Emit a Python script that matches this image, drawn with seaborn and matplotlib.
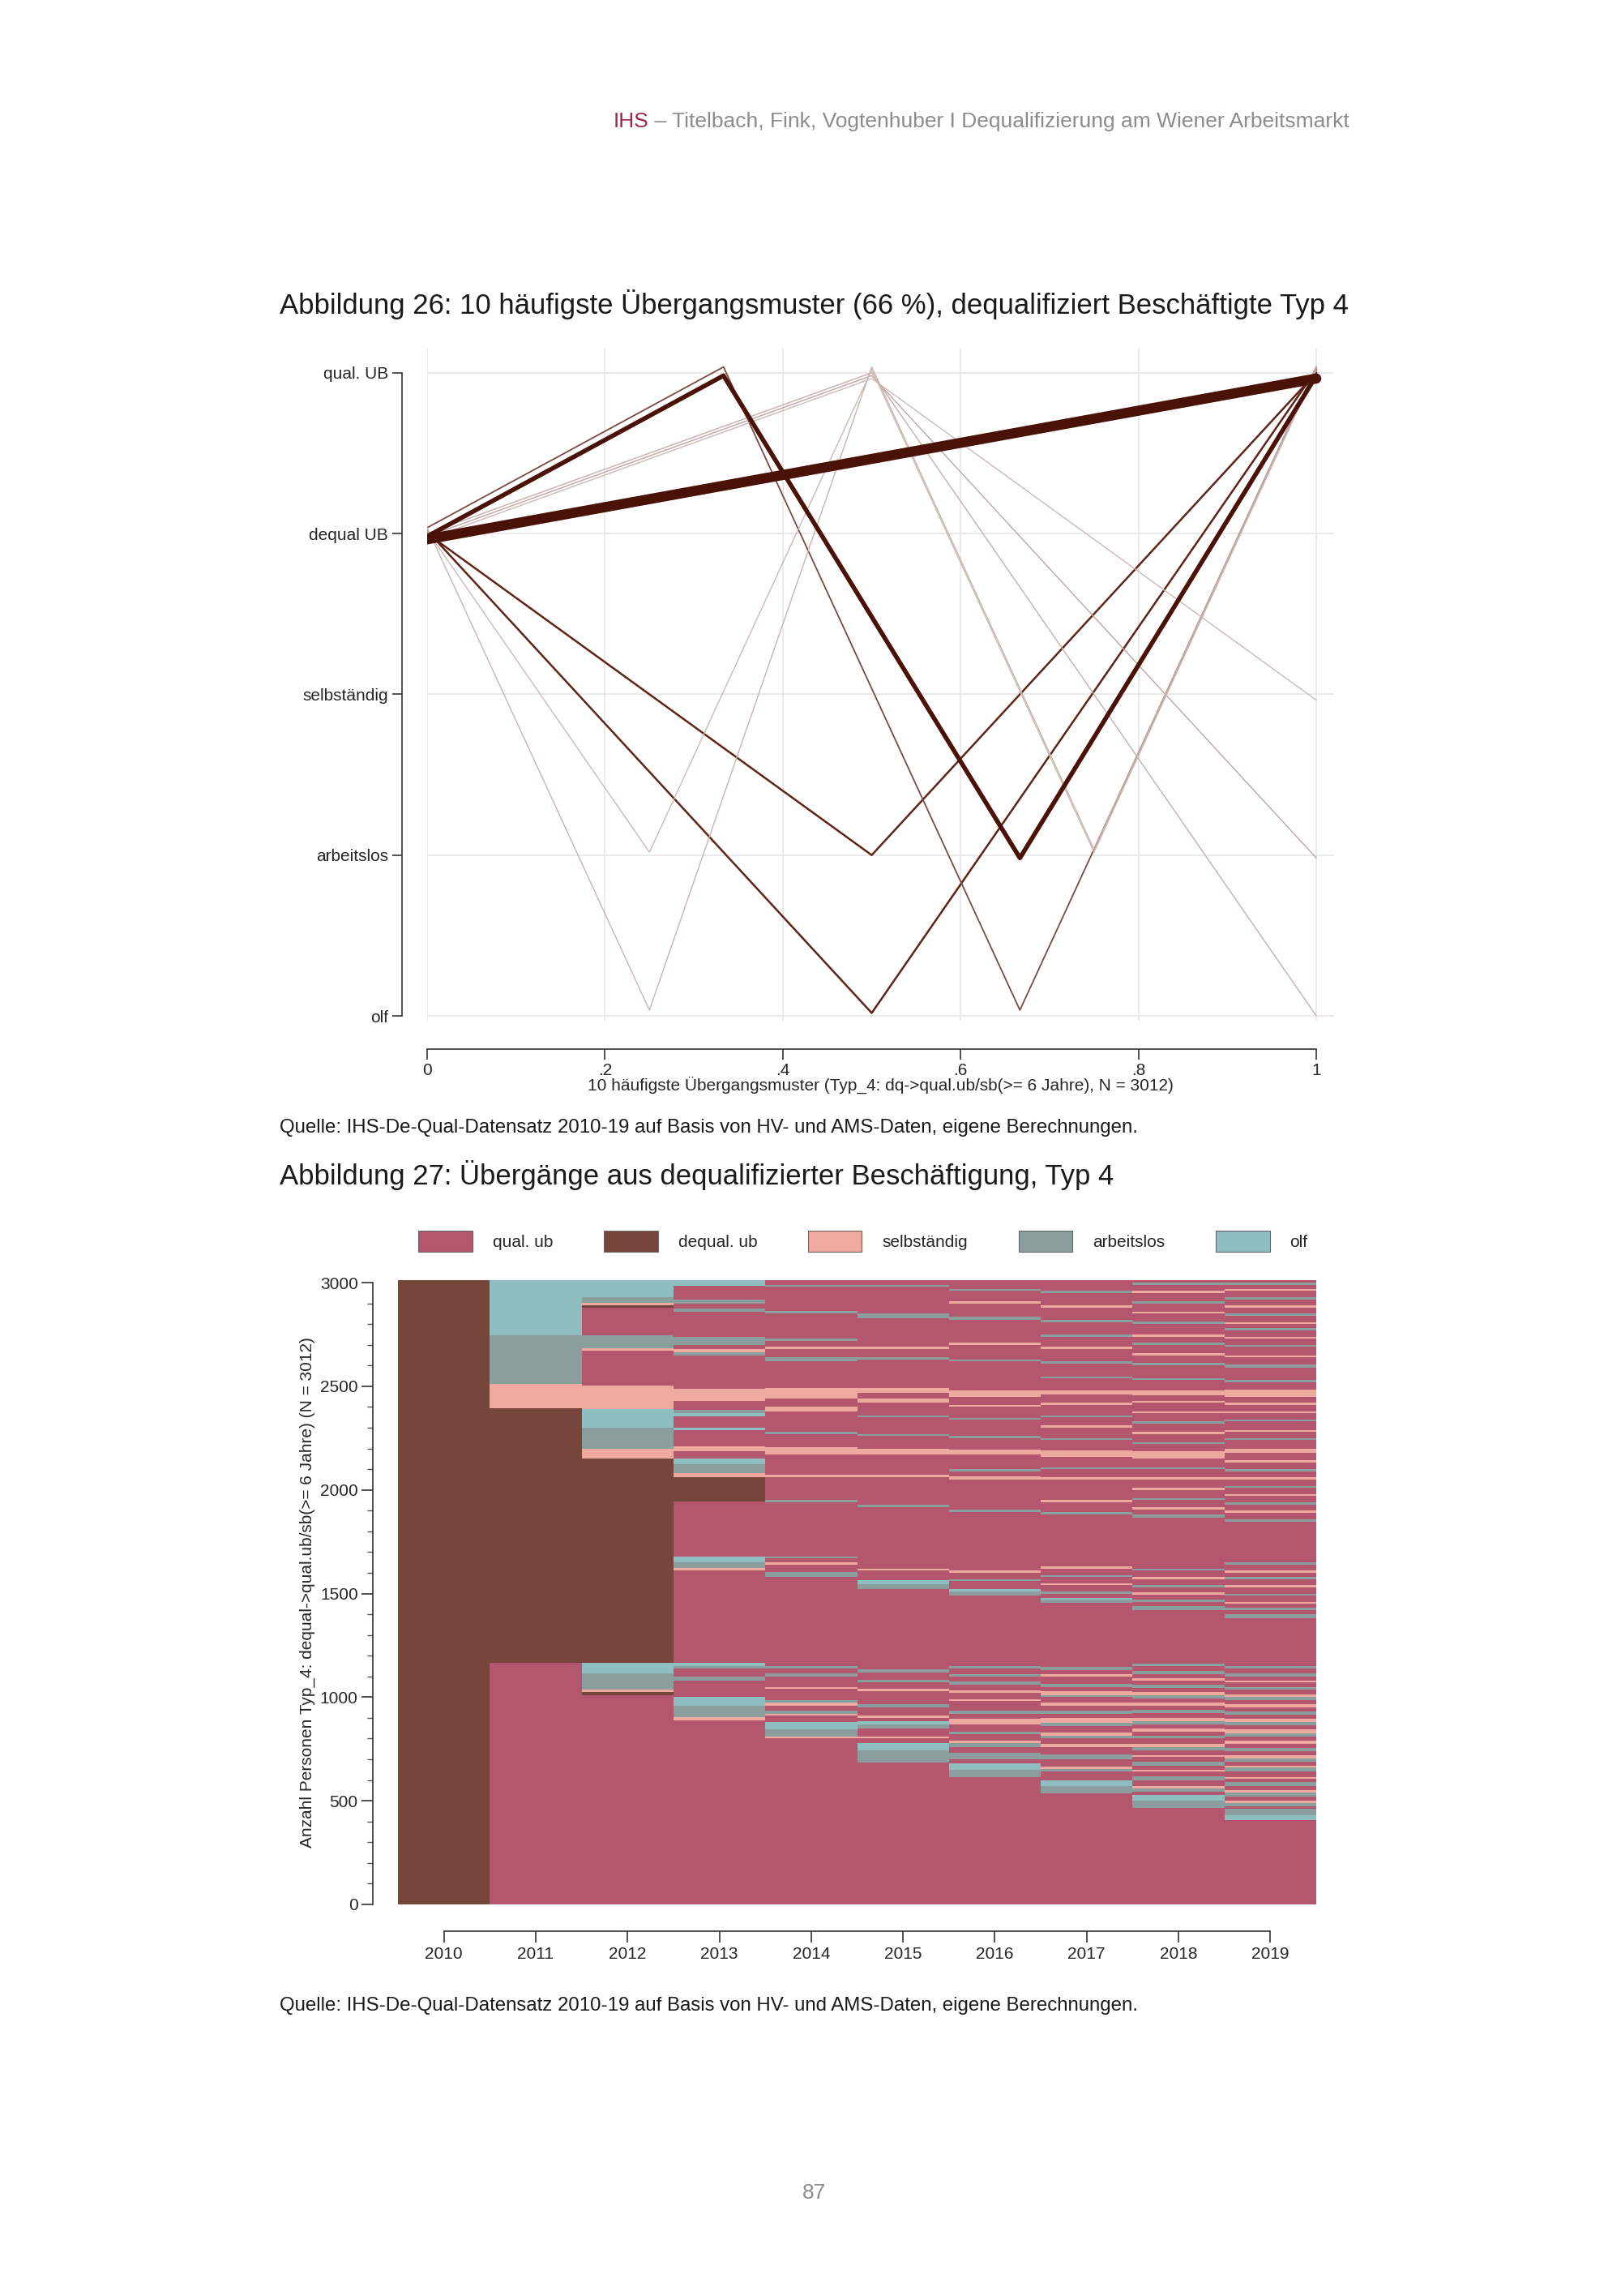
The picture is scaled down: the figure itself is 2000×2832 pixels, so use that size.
import matplotlib
matplotlib.use("Agg")
import matplotlib.pyplot as plt
import matplotlib.patches as mpatches
from matplotlib.transforms import offset_copy
import seaborn as sns
import pandas as pd

# ---- Daten Abbildung 26: 10 häufigste Übergangsmuster ----
state_labels = ["olf", "arbeitslos", "selbständig", "dequal UB", "qual. UB"]
state_code = {"O": 1, "A": 2, "S": 3, "D": 4, "Q": 5}
patterns = [
    ["D", "Q"],
    ["D", "Q", "A", "Q"],
    ["D", "A", "Q"],
    ["D", "O", "Q"],
    ["D", "Q", "O", "Q"],
    ["D", "Q", "S"],
    ["D", "Q", "A"],
    ["D", "Q", "O"],
    ["D", "A", "Q", "A", "Q"],
    ["D", "O", "Q", "A", "Q"],
]
pattern_widths = [9, 4, 1.8, 1.8, 1.3, 1.0, 1.0, 1.0, 1.0, 1.0]
pattern_colors = ["#4a1206", "#4a1206", "#5e2418", "#5e2418", "#7a4a42",
                  "#cdb9b5", "#bfa6a1", "#c6afaa", "#cdb9b5", "#c9b3ae"]

# ---- Daten Abbildung 27: Sequenzindexplot (Zustand, obere Grenze) ----
years = [2010, 2011, 2012, 2013, 2014, 2015, 2016, 2017, 2018, 2019]
runs_2010 = "D3012"
runs_2011 = "Q1165 D2394 S2510 A2745 O3012"
runs_2012 = ("Q1010 D1025 S1035 A1115 O1165 D2150 S2200 A2300 O2390 S2505 Q2670 S2685 "
             "A2745 Q2880 D2892 S2902 A2930 O3012")
runs_2013 = ("Q888 S905 A960 O1000 Q1080 A1100 Q1140 A1150 O1165 Q1612 S1622 A1650 O1680 "
             "Q1944 D2060 S2080 A2125 O2150 Q2185 S2210 Q2290 O2300 Q2355 O2372 A2385 Q2430 "
             "S2487 Q2650 A2665 S2680 Q2700 A2740 Q2860 A2875 Q2900 A2920 Q2985 O3012")
runs_2014 = ("Q800 S808 A845 O880 Q910 S920 A935 Q960 S975 A985 Q1040 S1050 Q1100 A1115 "
             "Q1140 A1150 Q1580 A1605 Q1640 S1650 Q1672 A1680 Q1940 A1950 Q2060 S2075 Q2170 "
             "S2205 Q2270 A2280 Q2380 S2400 Q2440 S2490 Q2620 A2640 Q2680 S2690 Q2720 A2730 "
             "Q2850 A2865 Q2980 A2990 Q3012")
runs_2015 = ("Q685 A745 O780 Q800 S810 Q850 A870 O885 Q900 S912 Q950 A965 Q1030 S1040 "
             "Q1070 A1085 Q1120 A1135 Q1520 A1545 O1565 Q1610 S1620 Q1915 A1930 Q2060 S2075 "
             "Q2170 S2200 Q2260 A2270 Q2350 A2358 Q2420 S2440 Q2470 S2490 Q2630 A2642 Q2680 "
             "S2690 Q2830 A2850 Q2980 A2988 Q3012")
runs_2016 = ("Q615 A650 O680 Q700 A730 Q760 A780 S790 Q820 A835 Q870 S895 Q920 A935 Q980 "
             "S990 Q1020 S1032 Q1060 A1075 Q1100 A1110 Q1140 A1150 Q1490 A1510 O1520 Q1560 "
             "A1570 Q1600 S1610 Q1895 A1905 Q2050 S2065 Q2090 A2100 Q2170 S2195 Q2250 A2260 "
             "Q2340 A2348 Q2400 S2410 Q2450 S2480 Q2620 A2630 Q2700 S2710 Q2820 A2835 Q2900 "
             "S2910 Q2960 A2970 Q3012")
runs_2017 = ("Q535 A570 O600 Q640 A655 S665 Q700 A725 Q760 S775 Q800 A815 S830 Q860 A875 "
             "S900 Q920 A935 Q960 S975 Q1000 A1010 S1030 Q1050 A1065 Q1100 S1110 Q1130 A1145 "
             "Q1455 A1470 O1480 Q1500 A1510 Q1540 S1550 Q1580 A1590 Q1620 S1630 Q1880 A1895 "
             "Q1940 S1950 Q2050 S2062 Q2100 A2110 Q2160 S2190 Q2240 A2250 Q2300 S2310 Q2350 "
             "A2360 Q2410 S2420 Q2460 S2480 Q2540 A2548 Q2610 A2622 Q2680 S2690 Q2740 A2750 "
             "Q2810 A2822 Q2880 S2890 Q2950 A2960 Q3012")
runs_2018 = ("Q465 A500 O530 Q545 A560 S570 Q600 A620 Q640 S650 Q670 A690 Q710 S720 Q745 "
             "A760 S775 Q800 A815 Q835 S850 Q870 A885 S900 Q925 A940 Q960 S975 Q995 A1010 "
             "S1025 Q1045 A1060 Q1080 S1090 Q1110 A1125 Q1150 A1160 Q1420 A1440 Q1460 A1470 "
             "Q1495 S1505 Q1530 A1540 Q1570 S1580 Q1610 A1620 Q1865 A1880 Q1905 S1915 Q1950 "
             "A1960 Q2000 S2010 Q2050 S2062 Q2100 A2110 Q2150 S2185 Q2220 A2230 Q2270 S2280 "
             "Q2320 A2330 Q2370 S2380 Q2420 S2430 Q2455 S2480 Q2530 A2540 Q2600 A2612 Q2650 "
             "S2660 Q2700 A2710 Q2740 S2750 Q2800 A2812 Q2850 S2860 Q2900 A2910 Q2950 S2960 "
             "Q2990 A3000 Q3012")
runs_2019 = ("Q405 O430 A460 Q475 A490 S500 Q520 A540 S550 Q570 A590 Q605 S615 Q640 A660 "
             "S670 Q690 A705 S720 Q740 A755 Q775 S790 Q810 A825 S845 Q865 A880 S895 Q915 "
             "A930 Q950 S965 Q985 A1000 S1015 Q1035 A1050 Q1070 S1080 Q1100 A1115 Q1140 A1150 "
             "Q1380 A1400 Q1420 A1430 Q1450 S1460 Q1490 A1500 Q1530 S1540 Q1570 A1580 Q1600 "
             "S1610 Q1640 A1650 Q1845 A1860 Q1890 S1900 Q1930 A1940 Q1970 S1980 Q2010 A2020 "
             "Q2050 S2060 Q2090 A2100 Q2130 S2145 Q2180 S2200 Q2240 A2250 Q2280 S2290 Q2330 "
             "A2340 Q2370 S2380 Q2410 S2420 Q2450 S2485 Q2520 A2530 Q2590 A2605 Q2640 S2650 "
             "Q2690 A2700 Q2730 S2740 Q2770 A2780 Q2800 S2810 Q2840 A2850 Q2880 S2890 Q2920 "
             "A2930 Q2960 S2970 Q2990 A3000 Q3012")
year_runs = [runs_2010, runs_2011, runs_2012, runs_2013, runs_2014,
             runs_2015, runs_2016, runs_2017, runs_2018, runs_2019]
legend_labels = ["qual. ub", "dequal. ub", "selbständig", "arbeitslos", "olf"]
state_colors = {"Q": "#b4566d", "D": "#76463a", "S": "#eeaa9f", "A": "#8a9e9d", "O": "#8fbec1"}

sns.set_theme(style="white")
plt.rcParams["font.family"] = ["Liberation Sans", "DejaVu Sans"]

fig = plt.figure(figsize=(20, 28.32), dpi=100)
W, H = 2000, 2832


def ax_rect(left, top, right, bottom):
    return [left / W, 1 - bottom / H, (right - left) / W, (bottom - top) / H]


# ---- Kopfzeile und Seitentexte ----
head = fig.text(1665 / W, 1 - 150 / H,
                " – Titelbach, Fink, Vogtenhuber I Dequalifizierung am Wiener Arbeitsmarkt",
                ha="right", va="center", fontsize=19, color="#8c8c8c")
renderer = fig.canvas.get_renderer()
head_w = head.get_window_extent(renderer).width
fig.text(1665 / W - head_w / W, 1 - 150 / H, "IHS", ha="right", va="center",
         fontsize=19, color="#9b2a4a")
fig.text(345 / W, 1 - 376 / H, "Abbildung 26: 10 häufigste Übergangsmuster (66 %), dequalifiziert Beschäftigte Typ 4",
         ha="left", va="center", fontsize=25, color="#1a1a1a")
fig.text(345 / W, 1 - 1391 / H, "Quelle: IHS-De-Qual-Datensatz 2010-19 auf Basis von HV- und AMS-Daten, eigene Berechnungen.",
         ha="left", va="center", fontsize=17.3, color="#1a1a1a")
fig.text(345 / W, 1 - 1449 / H, "Abbildung 27: Übergänge aus dequalifizierter Beschäftigung, Typ 4",
         ha="left", va="center", fontsize=25, color="#1a1a1a")
fig.text(345 / W, 1 - 2474 / H, "Quelle: IHS-De-Qual-Datensatz 2010-19 auf Basis von HV- und AMS-Daten, eigene Berechnungen.",
         ha="left", va="center", fontsize=17.3, color="#1a1a1a")
fig.text(1005 / W, 1 - 2705 / H, "87", ha="center", va="center", fontsize=19, color="#8c8c8c")

# ---- Abbildung 26 ----
ax1 = fig.add_axes(ax_rect(527, 430, 1646, 1259))
for i, (pat, lw, col) in enumerate(zip(patterns, pattern_widths, pattern_colors)):
    n = len(pat)
    df = pd.DataFrame({"x": [k / (n - 1) for k in range(n)],
                       "y": [state_code[s] + 0.018 * (i % 5 - 2) for s in pat]})
    sns.lineplot(data=df, x="x", y="y", ax=ax1, sort=False, color=col,
                 linewidth=lw, zorder=10 - i if i < 2 else 3)
ax1.set_xlim(0, 1.02)
ax1.set_ylim(0.97, 5.15)
ax1.set_yticks([1, 2, 3, 4, 5])
ax1.set_yticklabels(state_labels)
ax1.set_xticks([0, 0.2, 0.4, 0.6, 0.8, 1])
ax1.set_xticklabels(["0", ".2", ".4", ".6", ".8", "1"])
ax1.grid(True, color="#e6e6e6", linewidth=1.2)
ax1.tick_params(axis="both", labelsize=15, length=9, width=1.2, color="#333333", left=True, bottom=True)
for s in ["top", "right"]:
    ax1.spines[s].set_visible(False)
ax1.spines["left"].set_position(("outward", 22))
ax1.spines["left"].set_bounds(1, 5)
ax1.spines["bottom"].set_position(("outward", 25))
ax1.spines["bottom"].set_bounds(0, 1)
for s in ["left", "bottom"]:
    ax1.spines[s].set_color("#333333")
    ax1.spines[s].set_linewidth(1.2)
ax1.set_xlabel("10 häufigste Übergangsmuster (Typ_4: dq->qual.ub/sb(>= 6 Jahre), N = 3012)",
               fontsize=15, labelpad=-2)
ax1.set_ylabel("")

# ---- Abbildung 27 ----
ax2 = fig.add_axes(ax_rect(491, 1579, 1624, 2349))
for i, runs in enumerate(year_runs):
    bottom = 0
    for tok in runs.split():
        st, top = tok[0], int(tok[1:])
        ax2.bar(i, top - bottom, bottom=bottom, width=1.0, color=state_colors[st],
                linewidth=0, antialiased=False)
        bottom = top
ax2.set_xlim(-0.5, 9.5)
ax2.set_ylim(0, 3012)
ax2.set_xticks(range(len(years)))
ax2.set_xticklabels([str(y) for y in years])
ax2.set_yticks([0, 500, 1000, 1500, 2000, 2500, 3000])
ax2.set_yticks(range(0, 3001, 100), minor=True)
ax2.tick_params(axis="both", which="major", labelsize=15, length=10, width=1.2,
                color="#333333", left=True, bottom=True)
ax2.tick_params(axis="y", which="minor", length=5, width=1, color="#555555", left=True)
for s in ["top", "right"]:
    ax2.spines[s].set_visible(False)
ax2.spines["left"].set_position(("outward", 22))
ax2.spines["left"].set_bounds(0, 3000)
ax2.spines["bottom"].set_position(("outward", 24))
ax2.spines["bottom"].set_bounds(0, 9)
for s in ["left", "bottom"]:
    ax2.spines[s].set_color("#333333")
    ax2.spines[s].set_linewidth(1.2)
ax2.set_ylabel("Anzahl Personen Typ_4: dequal->qual.ub/sb(>= 6 Jahre) (N = 3012)", fontsize=15)

handles = [mpatches.Patch(facecolor=state_colors[k], edgecolor="#666666", linewidth=0.8, label=l)
           for k, l in zip(["Q", "D", "S", "A", "O"], legend_labels)]
fig.legend(handles=handles, loc="center", bbox_to_anchor=(1065 / W, 1 - 1531 / H), ncol=5,
           frameon=False, fontsize=15, handlelength=3.2, handleheight=1.6, columnspacing=3.0,
           handletextpad=1.2)

fig.savefig("out.png", dpi=100)
